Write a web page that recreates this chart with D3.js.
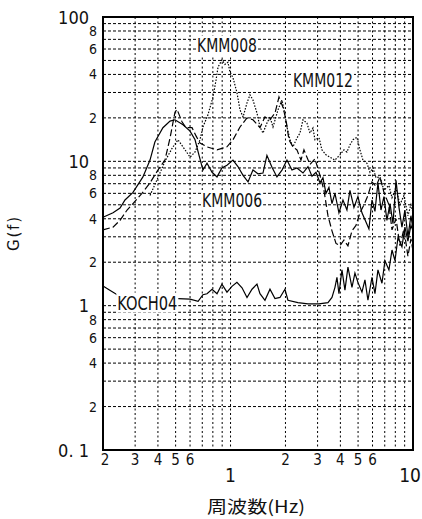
<!DOCTYPE html>
<html>
<head>
<meta charset="utf-8">
<script src="https://cdn.jsdelivr.net/npm/d3@7"></script>
<style>
  body { margin: 0; background: #fff; }
  text { font-family: "Liberation Sans Narrow", "Arial Narrow", "DejaVu Sans Condensed", sans-serif; fill: #111; }
</style>
</head>
<body>
<div id="chart"></div>
<script>
// grid / tick values
const xGrid = [0.2, 0.3, 0.4, 0.5, 0.6, 0.7, 0.8, 0.9, 1, 2, 3, 4, 5, 6, 7, 8, 9, 10];
const xMinorLabels = [0.2, 0.3, 0.4, 0.5, 0.6, 2, 3, 4, 5, 6];
const xMajorLabels = [1, 10];
const yGrid = [0.2, 0.3, 0.4, 0.5, 0.6, 0.7, 0.8, 0.9, 1, 2, 3, 4, 5, 6, 7, 8, 9, 10,
  20, 30, 40, 50, 60, 70, 80, 90, 100];
const yMinorLabels = [0.2, 0.4, 0.6, 0.8, 2, 4, 6, 8, 20, 40, 60, 80];
const yMajorLabels = [0.1, 1, 10, 100];

// KMM006 (solid)
const kmm006Freq = [0.200, 0.227, 0.248, 0.264, 0.292, 0.331, 0.362, 0.385, 0.426, 0.466,
  0.496, 0.549, 0.600, 0.639, 0.672, 0.706, 0.743, 0.792, 0.843, 0.897,
  0.956, 1.031, 1.098, 1.171, 1.247, 1.327, 1.413, 1.506, 1.583, 1.687,
  1.796, 1.914, 2.038, 2.171, 2.312, 2.495, 2.657, 2.795, 2.940, 3.091,
  3.210, 3.335, 3.462, 3.597, 3.735, 3.928, 4.132, 4.344, 4.513, 4.747,
  4.991, 5.251, 5.524, 5.734, 5.959, 6.188, 6.426, 6.674, 6.931, 7.196,
  7.480, 7.769, 8.071, 8.378, 8.697, 9.031, 9.379, 9.742, 10.0];
const kmm006G = [4.1, 4.4, 4.75, 5.4, 6.1, 7.8, 10.2, 13.6, 17.1, 19.0,
  19.4, 17.9, 16.2, 14.1, 11.0, 8.7, 9.7, 8.4, 7.8, 9.0,
  9.4, 10.2, 9.2, 8.0, 7.2, 8.7, 8.2, 8.3, 11.0, 9.1,
  7.8, 8.7, 10.2, 8.7, 9.0, 8.3, 9.2, 7.9, 8.4, 7.1,
  7.7, 6.0, 6.6, 5.1, 6.0, 4.4, 5.4, 4.6, 6.3, 4.8,
  5.7, 4.4, 3.8, 3.4, 5.4, 4.5, 7.1, 4.6, 5.7, 3.9,
  5.1, 3.7, 7.4, 4.8, 3.5, 4.6, 3.0, 4.2, 3.4];

// KMM012 (dashed)
const kmm012Freq = [0.200, 0.227, 0.248, 0.271, 0.292, 0.327, 0.362, 0.400, 0.437, 0.466,
  0.496, 0.509, 0.542, 0.570, 0.615, 0.647, 0.680, 0.743, 0.843, 0.956,
  1.031, 1.127, 1.231, 1.327, 1.450, 1.544, 1.645, 1.752, 1.843, 1.938,
  2.013, 2.090, 2.199, 2.312, 2.432, 2.526, 2.725, 2.902, 3.091, 3.251,
  3.419, 3.597, 3.784, 3.978, 4.184, 4.400, 4.629, 4.870, 5.120, 5.385,
  5.663, 5.959, 6.269, 6.590, 6.931, 7.381, 7.672, 8.071, 8.480, 8.919,
  9.379, 9.742, 10.0];
const kmm012G = [3.35, 3.5, 3.9, 4.6, 5.1, 6.0, 7.1, 8.7, 10.2, 14.5,
  21.9, 22.9, 18.8, 17.1, 17.1, 15.0, 13.4, 12.6, 12.0, 12.6,
  14.1, 17.3, 20.0, 19.4, 17.1, 20.3, 19.4, 21.6, 27.9, 23.7,
  19.4, 14.1, 12.6, 12.0, 10.2, 12.0, 9.5, 10.4, 8.0, 6.3,
  4.2, 3.3, 2.7, 2.6, 2.85, 2.6, 3.3, 3.6, 4.4, 5.0,
  5.8, 7.2, 6.7, 7.8, 6.1, 5.0, 3.35, 4.0, 2.6, 3.4,
  2.2, 2.9, 2.4];

// KMM008 (dotted)
const kmm008Freq = [0.362, 0.400, 0.437, 0.478, 0.515, 0.556, 0.600, 0.639, 0.680, 0.706,
  0.752, 0.802, 0.833, 0.854, 0.897, 0.932, 0.968, 0.993, 1.031, 1.084,
  1.127, 1.171, 1.231, 1.278, 1.327, 1.396, 1.450, 1.506, 1.583, 1.645,
  1.709, 1.819, 1.914, 1.987, 2.038, 2.117, 2.199, 2.312, 2.402, 2.495,
  2.623, 2.725, 2.830, 2.902, 3.052, 3.170, 3.335, 3.507, 3.735, 3.978,
  4.184, 4.344, 4.513, 4.687, 4.928, 5.120, 5.318, 5.591, 5.810, 6.034,
  6.269, 6.590, 6.931, 7.381, 7.672, 8.071, 8.480, 8.919, 9.379, 9.742, 10.0];
const kmm008G = [5.8, 7.7, 10.0, 12.3, 14.1, 12.3, 10.7, 11.6, 14.1, 17.3,
  21.0, 28.0, 36.6, 45.0, 50.4, 47.0, 48.6, 41.6, 38.0, 30.0,
  22.7, 20.3, 25.4, 28.9, 26.6, 21.6, 17.3, 15.7, 18.4, 20.3,
  17.3, 22.7, 26.6, 21.0, 17.3, 14.1, 12.6, 14.5, 15.7, 19.4,
  18.4, 15.7, 17.0, 14.1, 14.6, 12.0, 11.1, 10.7, 10.2, 11.1,
  12.0, 11.6, 13.0, 14.1, 14.7, 12.0, 10.2, 9.7, 8.4, 9.0,
  7.7, 7.8, 6.3, 6.8, 5.6, 6.5, 5.0, 5.8, 4.2, 5.0, 4.4];

// KOCH04 (solid)
const koch04Freq = [0.200, 0.218, 0.239, 0.515, 0.600, 0.664, 0.706, 0.743, 0.792, 0.843,
  0.897, 0.956, 1.018, 1.084, 1.156, 1.231, 1.311, 1.396, 1.450, 1.544,
  1.645, 1.752, 1.866, 1.987, 2.064, 2.341, 2.657, 3.052, 3.419, 3.597,
  3.735, 3.830, 3.928, 4.080, 4.237, 4.400, 4.629, 4.806, 4.991, 5.251,
  5.453, 5.663, 5.959, 6.188, 6.426, 6.759, 7.018, 7.381, 7.672, 7.966,
  8.273, 8.697, 9.031, 9.379, 9.742, 10.0];
const koch04G = [1.37, 1.28, 1.19, 1.12, 1.11, 1.07, 1.19, 1.21, 1.30, 1.21,
  1.41, 1.24, 1.36, 1.45, 1.33, 1.14, 1.30, 1.41, 1.21, 1.09,
  1.30, 1.12, 1.14, 1.30, 1.09, 1.05, 1.03, 1.03, 1.05, 1.14,
  1.34, 1.57, 1.21, 1.77, 1.28, 1.85, 1.34, 1.68, 1.45, 1.24,
  1.51, 1.09, 1.57, 1.21, 1.77, 1.43, 2.05, 1.77, 2.43, 2.05,
  2.97, 2.56, 3.5, 2.8, 3.6, 3.3];

const width = 422;
const height = 519;
const margin = { top: 17, right: 9, bottom: 69, left: 103 };

const x = d3.scaleLog().domain([0.2, 10]).range([margin.left, width - margin.right]);
const y = d3.scaleLog().domain([0.1, 100]).range([height - margin.bottom, margin.top]);

const svg = d3.select("#chart").append("svg")
  .attr("width", width)
  .attr("height", height);

// grid
svg.append("g").selectAll("line")
  .data(xGrid.slice(1, -1))
  .join("line")
  .attr("x1", d => x(d)).attr("x2", d => x(d))
  .attr("y1", y(100)).attr("y2", y(0.1))
  .attr("stroke", "#000").attr("stroke-width", 1)
  .attr("stroke-dasharray", "2,2.5");

svg.append("g").selectAll("line")
  .data(yGrid.slice(0, -1))
  .join("line")
  .attr("x1", x(0.2)).attr("x2", x(10))
  .attr("y1", d => y(d)).attr("y2", d => y(d))
  .attr("stroke", "#000").attr("stroke-width", 1)
  .attr("stroke-dasharray", "3,2");

// curves
const line = d3.line().x(d => x(d[0])).y(d => y(d[1]));
const series = [
  { f: kmm008Freq, g: kmm008G, dash: "1.5,1.5" },
  { f: kmm012Freq, g: kmm012G, dash: "7,3" },
  { f: kmm006Freq, g: kmm006G, dash: null },
  { f: koch04Freq, g: koch04G, dash: null },
];
series.forEach(s => {
  svg.append("path")
    .datum(d3.zip(s.f, s.g))
    .attr("fill", "none")
    .attr("stroke", "#000")
    .attr("stroke-width", 1.2)
    .attr("stroke-dasharray", s.dash)
    .attr("d", line);
});

// frame
svg.append("rect")
  .attr("x", x(0.2)).attr("y", y(100))
  .attr("width", x(10) - x(0.2)).attr("height", y(0.1) - y(100))
  .attr("fill", "none").attr("stroke", "#000").attr("stroke-width", 2);

// series labels (white box behind, like the original)
const labels = [
  { name: "KMM008", f: 0.956, g: 63.5 },
  { name: "KMM012", f: 3.21, g: 36.6 },
  { name: "KMM006", f: 1.02, g: 5.37 },
  { name: "KOCH04", f: 0.35, g: 1.05 },
];
labels.forEach(l => {
  const t = svg.append("text")
    .attr("x", x(l.f)).attr("y", y(l.g))
    .attr("text-anchor", "middle")
    .attr("dominant-baseline", "central")
    .attr("font-size", 20)
    .attr("textLength", 60)
    .attr("lengthAdjust", "spacingAndGlyphs")
    .text(l.name);
  const b = t.node().getBBox();
  svg.insert("rect", () => t.node())
    .attr("x", b.x - 1).attr("y", b.y + 2)
    .attr("width", b.width + 2).attr("height", b.height - 4)
    .attr("fill", "#fff");
});

// y tick labels
svg.append("g").selectAll("text")
  .data(yMajorLabels)
  .join("text")
  .attr("x", margin.left - 14)
  .attr("y", d => y(d))
  .attr("text-anchor", "end")
  .attr("dominant-baseline", "central")
  .attr("font-size", 18)
  .text(d => d === 0.1 ? "0. 1" : d);

svg.append("g").selectAll("text")
  .data(yMinorLabels)
  .join("text")
  .attr("x", margin.left - 6)
  .attr("y", d => y(d))
  .attr("text-anchor", "end")
  .attr("dominant-baseline", "central")
  .attr("font-size", 14)
  .text(d => +String(d).replace("0.", "").replace(/0$/, ""));

// x tick labels
svg.append("g").selectAll("text")
  .data(xMinorLabels)
  .join("text")
  .attr("x", (d, i) => x(d) + (i === 0 ? 2 : 0))
  .attr("y", y(0.1) + 10)
  .attr("text-anchor", "middle")
  .attr("dominant-baseline", "central")
  .attr("font-size", 15)
  .text(d => d < 1 ? Math.round(d * 10) : d);

svg.append("g").selectAll("text")
  .data(xMajorLabels)
  .join("text")
  .attr("x", d => x(d) - (d === 10 ? 3 : 0))
  .attr("y", y(0.1) + 25)
  .attr("text-anchor", "middle")
  .attr("dominant-baseline", "central")
  .attr("font-size", 19)
  .text(d => d);

// axis titles
svg.append("text")
  .attr("transform", "translate(14,234) rotate(-90)")
  .attr("text-anchor", "middle")
  .attr("dominant-baseline", "central")
  .attr("font-size", 15)
  .attr("textLength", 34)
  .attr("lengthAdjust", "spacing")
  .style("font-family", "'DejaVu Sans', sans-serif")
  .text("G(f)");

svg.append("text")
  .attr("x", 256)
  .attr("y", 505)
  .attr("text-anchor", "middle")
  .attr("dominant-baseline", "central")
  .attr("font-size", 17)
  .attr("textLength", 98)
  .attr("lengthAdjust", "spacingAndGlyphs")
  .style("font-family", "'Noto Sans CJK JP', sans-serif")
  .text("周波数(Hz)");
</script>
</body>
</html>
